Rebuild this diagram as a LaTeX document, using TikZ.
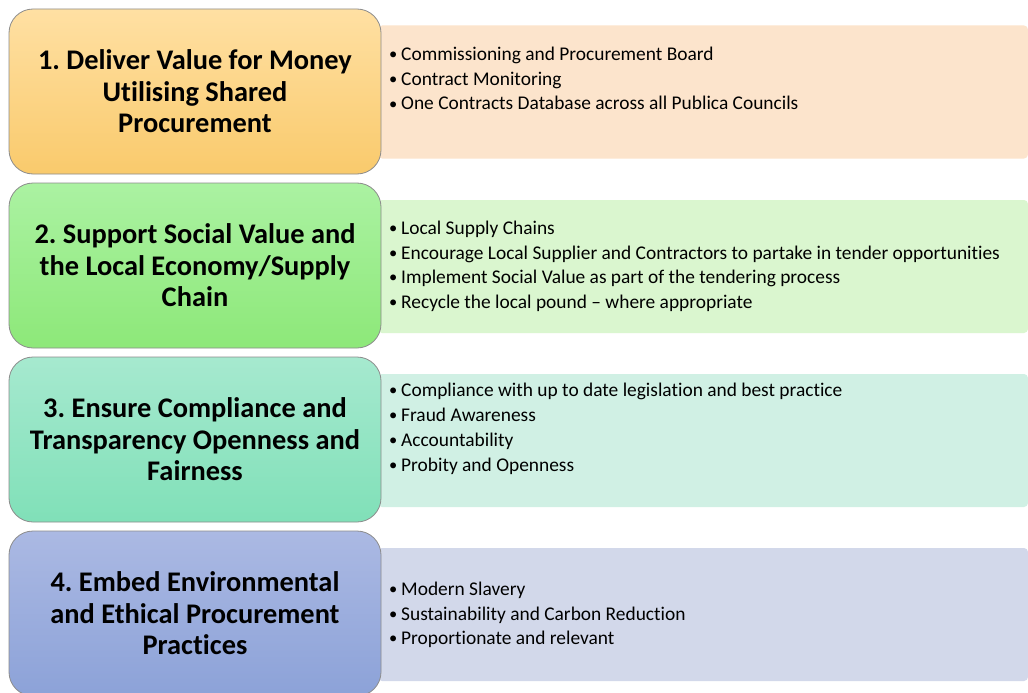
\documentclass[tikz,border=0pt]{standalone}
\usepackage{fontspec}
\setmainfont[Ligatures=CommonOff]{Carlito}
\definecolor{oT}{HTML}{FFE0A3}
\definecolor{oB}{HTML}{F9CA6C}
\definecolor{oR}{HTML}{FCE4CC}
\definecolor{gT}{HTML}{ABF2A2}
\definecolor{gB}{HTML}{8DE879}
\definecolor{gR}{HTML}{DAF6CF}
\definecolor{tT}{HTML}{A6E9CF}
\definecolor{tB}{HTML}{80E0B8}
\definecolor{tR}{HTML}{D0F0E4}
\definecolor{bT}{HTML}{ABB9E3}
\definecolor{bB}{HTML}{8CA2D8}
\definecolor{bR}{HTML}{D2D8EA}
\definecolor{edge}{HTML}{8C8C8C}
\frenchspacing
\begin{document}
\begin{tikzpicture}[x=1pt,y=-1pt,
  leftbox/.style={rounded corners=24pt, minimum width=372pt, minimum height=165pt, line width=0.8pt, inner sep=0pt, draw=edge},
  rightbox/.style={rounded corners=4pt, minimum width=650pt, minimum height=133pt, inner sep=0pt},
  title/.style={font=\fontsize{28.4}{31.5}\selectfont\bfseries, align=center, inner sep=0pt},
  item/.style={anchor=base west, inner sep=0pt, font=\fontsize{19.4}{22}\selectfont}
]
\useasboundingbox (0,0) rectangle (1028,693);
\clip (0,0) rectangle (1028,693);
\fill[white] (0,0) rectangle (1028,693);
% right panels
\node[rightbox, fill=oR] (r1) at (703,92) {};
\node[rightbox, fill=gR] (r2) at (703,266.5) {};
\node[rightbox, fill=tR] (r3) at (703,440.5) {};
\node[rightbox, fill=bR] (r4) at (703,614.5) {};
% left boxes
\node[leftbox, top color=oT, bottom color=oB] (l1) at (195,91.5) {};
\node[leftbox, top color=gT, bottom color=gB] (l2) at (195,265.5) {};
\node[leftbox, top color=tT, bottom color=tB] (l3) at (195,439.5) {};
\node[leftbox, top color=bT, bottom color=bB] (l4) at (195,613.5) {};
\node[title] (t1) at (l1.center) {1. Deliver Value for Money\\Utilising Shared\\Procurement};
\node[title] (t2) at (l2.center) {2. Support Social Value and\\the Local Economy/Supply\\Chain};
\node[title] (t3) at (l3.center) {3. Ensure Compliance and\\Transparency Openness and\\Fairness};
\node[title] (t4) at (l4.center) {4. Embed Environmental\\and Ethical Procurement\\Practices};
% bullet items
\newcommand{\bul}{\makebox[13pt][l]{\hspace{1pt}\raisebox{0.6pt}{\scalebox{0.85}{•}}}}
\node[item] (a1) at (388,60) {\bul Commissioning and Procurement Board};
\node[item] (a2) at (388,85) {\bul Contract Monitoring};
\node[item] (a3) at (388,110) {\bul One Contracts Database across all Publica Councils};
\node[item] (b1) at (388,234) {\bul Local Supply Chains};
\node[item] (b2) at (388,259) {\bul Encourage Local Supplier and Contractors to partake in tender opportunities};
\node[item] (b3) at (388,283) {\bul Implement Social Value as part of the tendering process};
\node[item] (b4) at (388,308) {\bul Recycle the local pound – where appropriate};
\node[item] (c1) at (388,396) {\bul Compliance with up to date legislation and best practice};
\node[item] (c2) at (388,421) {\bul Fraud Awareness};
\node[item] (c3) at (388,446) {\bul Accountability};
\node[item] (c4) at (388,471) {\bul Probity and Openness};
\node[item] (d1) at (388,595) {\bul Modern Slavery};
\node[item] (d2) at (388,620) {\bul Sustainability and Carbon Reduction};
\node[item] (d3) at (388,644) {\bul Proportionate and relevant};
\end{tikzpicture}
\end{document}
